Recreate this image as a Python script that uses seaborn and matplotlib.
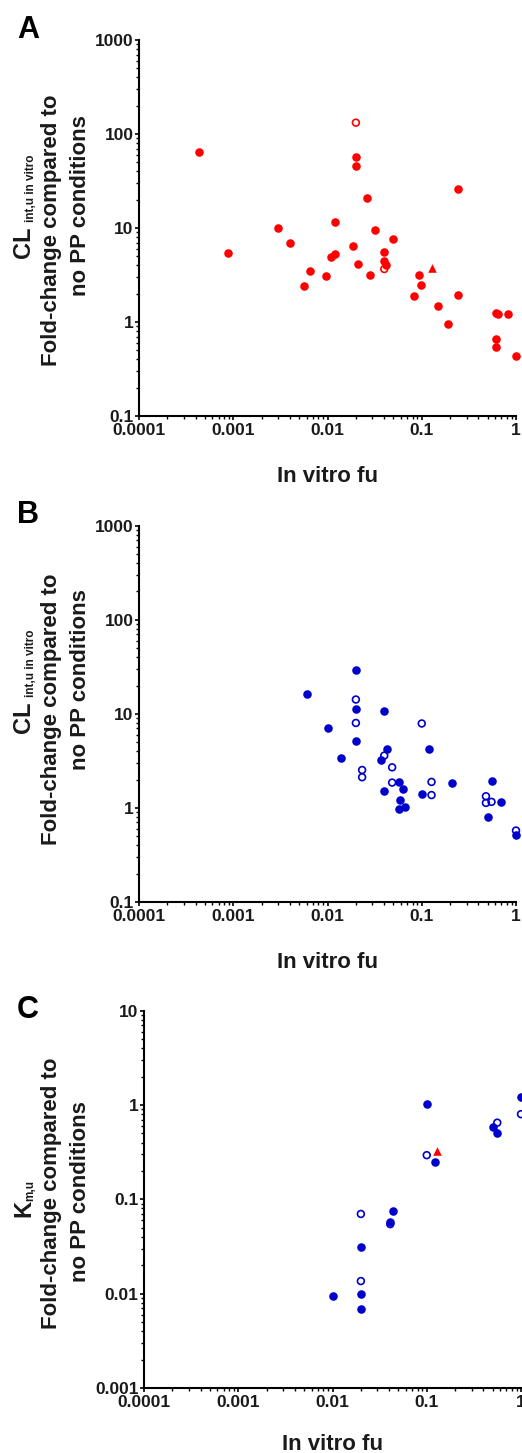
import numpy as np
import matplotlib
matplotlib.use("Agg")
import matplotlib.pyplot as plt
import seaborn as sns
from matplotlib.ticker import LogLocator, NullFormatter

# ---------------- data ----------------
# Panel A (red): CLint,u in vitro fold-change vs in vitro fu
a_filled_fu = [0.00043, 0.020, 0.020, 0.026, 0.24, 0.00089, 0.0030, 0.0040, 0.0056, 0.0065,
               0.0096, 0.011, 0.0121, 0.0121, 0.0185, 0.021, 0.028, 0.032, 0.040, 0.040,
               0.042, 0.050, 0.083, 0.094, 0.099, 0.147, 0.19, 0.24, 0.61, 0.64,
               0.83, 0.61, 0.61, 1.0]
a_filled_fc = [64, 57, 46, 20.8, 25.7, 5.4, 9.9, 6.9, 2.43, 3.5,
               3.1, 4.9, 5.3, 11.7, 6.4, 4.15, 3.18, 9.6, 5.6, 4.5,
               4.07, 7.6, 1.87, 3.2, 2.47, 1.48, 0.944, 1.96, 1.26, 1.21,
               1.21, 0.66, 0.54, 0.43]
a_open_fu = [0.020, 0.040]
a_open_fc = [132, 3.66]
a_tri_fu = [0.128]
a_tri_fc = [3.76]

# Panel B (blue): CLint,u in vitro fold-change vs in vitro fu
b_filled_fu = [0.0060, 0.020, 0.020, 0.040, 0.020, 0.010, 0.0139, 0.0368, 0.043, 0.040,
               0.057, 0.059, 0.057, 0.063, 0.067, 0.10, 0.12, 0.21, 0.50, 0.55,
               0.69, 1.0]
b_filled_fc = [16.4, 29, 11.3, 10.7, 5.1, 7.1, 3.43, 3.2, 4.2, 1.50,
               1.87, 1.21, 0.985, 1.6, 1.03, 1.40, 4.2, 1.83, 0.80, 1.92,
               1.16, 0.51]
b_open_fu = [0.020, 0.020, 0.0233, 0.0233, 0.040, 0.0485, 0.0485, 0.10, 0.127, 0.127,
             0.48, 0.48, 0.55, 1.0]
b_open_fc = [14.2, 8.0, 2.53, 2.12, 3.6, 2.7, 1.86, 7.9, 1.89, 1.37,
             1.33, 1.13, 1.16, 0.575]

# Panel C (blue + red triangle): Km,u fold-change vs in vitro fu
c_filled_fu = [0.10, 0.122, 0.50, 0.56, 1.0, 0.020, 0.020, 0.010, 0.044, 0.041, 0.020]
c_filled_fc = [1.03, 0.248, 0.58, 0.51, 1.23, 0.0316, 0.010, 0.0094, 0.0755, 0.058, 0.0069]
c_open_fu = [0.10, 0.56, 1.0, 0.020, 0.020, 0.041]
c_open_fc = [0.294, 0.65, 0.80, 0.070, 0.0136, 0.0546]
c_tri_fu = [0.128]
c_tri_fc = [0.327]

x_ticks = [1e-4, 1e-3, 1e-2, 1e-1, 1]
x_ticklabels = ["0.0001", "0.001", "0.01", "0.1", "1"]
y_ticks_ab = [0.1, 1, 10, 100, 1000]
y_ticklabels_ab = ["0.1", "1", "10", "100", "1000"]
y_ticks_c = [0.001, 0.01, 0.1, 1, 10]
y_ticklabels_c = ["0.001", "0.01", "0.1", "1", "10"]

RED = "#FF0000"
BLUE = "#0000CC"

# ---------------- style ----------------
sns.set_style("ticks")
plt.rcParams["font.family"] = ["Liberation Sans", "DejaVu Sans"]
plt.rcParams["font.weight"] = "bold"

W, H = 522, 1453
fig = plt.figure(figsize=(W / 100, H / 100), dpi=100)


def add_ax(l, r, t, b):
    return fig.add_axes([l / W, 1 - b / H, (r - l) / W, (b - t) / H])


def style_ax(ax, yticks, yticklabels):
    ax.set_xscale("log")
    ax.set_yscale("log")
    ax.set_xlim(1e-4, 1)
    ax.set_ylim(yticks[0], yticks[-1])
    ax.set_xticks(x_ticks)
    ax.set_xticklabels(x_ticklabels)
    ax.set_yticks(yticks)
    ax.set_yticklabels(yticklabels)
    for axis in (ax.xaxis, ax.yaxis):
        axis.set_minor_locator(LogLocator(base=10, subs=np.arange(2, 10), numticks=30))
        axis.set_minor_formatter(NullFormatter())
    for s in ("top", "right"):
        ax.spines[s].set_visible(False)
    for s in ("left", "bottom"):
        ax.spines[s].set_linewidth(1.5)
        ax.spines[s].set_color("black")
    ax.tick_params(which="major", length=3, width=1.2, direction="out", pad=1,
                   labelsize=12.5, color="black", labelcolor="#1a1a1a")
    ax.tick_params(axis="x", which="major", pad=1.8)
    ax.tick_params(which="minor", length=2, width=1.0, direction="out", color="black")
    for lab in ax.get_xticklabels() + ax.get_yticklabels():
        lab.set_fontweight("bold")
    ax.set_xlabel("")
    ax.set_ylabel("")
    ax.set_facecolor("white")


def filled(ax, x, y, color):
    sns.scatterplot(x=x, y=y, ax=ax, color=color, marker="o", s=38, linewidth=0,
                    edgecolor=color, clip_on=False, zorder=3)


def hollow(ax, x, y, color):
    sns.scatterplot(x=x, y=y, ax=ax, color=color, marker="o", s=24, linewidth=1.2,
                    facecolor="none", edgecolor=color, clip_on=False, zorder=4)


def tri(ax, x, y, color):
    sns.scatterplot(x=x, y=y, ax=ax, color=color, marker="^", s=38, linewidth=0,
                    edgecolor=color, clip_on=False, zorder=4)


def ftext(x, y, s, **kw):
    return fig.text(x / W, 1 - y / H, s, **kw)


# ---------------- Panel A ----------------
axA = add_ax(139, 516, 40, 416)
filled(axA, a_filled_fu, a_filled_fc, RED)
hollow(axA, a_open_fu, a_open_fc, RED)
tri(axA, a_tri_fu, a_tri_fc, RED)
style_ax(axA, y_ticks_ab, y_ticklabels_ab)

# ---------------- Panel B ----------------
axB = add_ax(139, 516, 525.7, 902)
filled(axB, b_filled_fu, b_filled_fc, BLUE)
hollow(axB, b_open_fu, b_open_fc, BLUE)
style_ax(axB, y_ticks_ab, y_ticklabels_ab)

# ---------------- Panel C ----------------
axC = add_ax(144, 521, 1010.7, 1388)
filled(axC, c_filled_fu, c_filled_fc, BLUE)
hollow(axC, c_open_fu, c_open_fc, BLUE)
tri(axC, c_tri_fu, c_tri_fc, RED)
style_ax(axC, y_ticks_c, y_ticklabels_c)

# ---------------- labels ----------------
lab_kw = dict(rotation=90, ha="center", va="center", fontsize=16, fontweight="bold",
              color="#1a1a1a")
main_kw = dict(rotation=90, ha="center", va="bottom", fontsize=17, fontweight="bold",
               color="#1a1a1a")
sub_kw = dict(rotation=90, ha="center", va="bottom", fontsize=8.5, fontweight="bold",
              color="#1a1a1a")

# panel letters
for letter, base in (("A", 38), ("B", 523), ("C", 1018)):
    ftext(17, base, letter, fontsize=22, fontweight="bold", ha="left", va="baseline",
          color="black")

# y labels A
ftext(23.5, 258, "CL", **main_kw)
ftext(30.5, 222, "int,u in vitro", **sub_kw)
ftext(52, 230, "Fold-change compared to", **lab_kw)
ftext(80, 206, "no PP conditions", **lab_kw)

# y labels B
ftext(23.5, 733, "CL", **main_kw)
ftext(30.5, 697, "int,u in vitro", **sub_kw)
ftext(52, 709, "Fold-change compared to", **lab_kw)
ftext(80, 680, "no PP conditions", **lab_kw)

# y labels C
ftext(23.5, 1217, "K", **main_kw)
ftext(30.5, 1201, "m,u", **sub_kw)
ftext(52, 1193, "Fold-change compared to", **lab_kw)
ftext(80, 1192, "no PP conditions", **lab_kw)

# x labels
for cx, base in ((327.5, 482), (327.5, 968), (332.5, 1450)):
    ftext(cx, base, "In vitro fu", fontsize=16, fontweight="bold", ha="center",
          va="baseline", color="#1a1a1a")

fig.savefig("out.png", dpi=100, facecolor="white")
